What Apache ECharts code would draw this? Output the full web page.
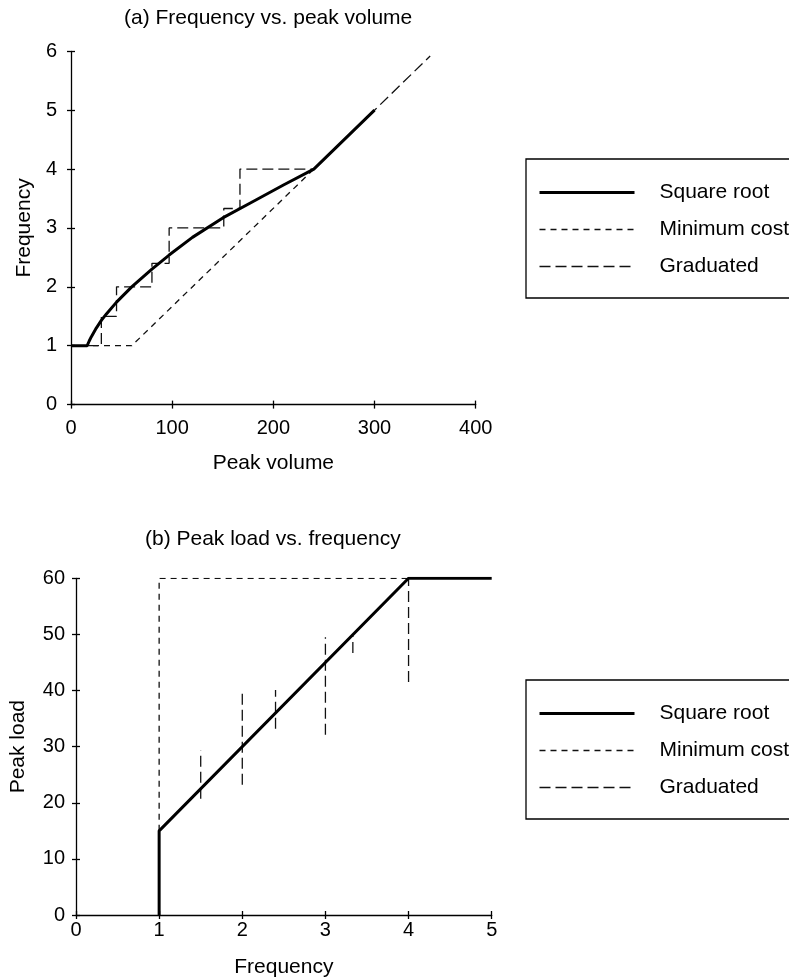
<!DOCTYPE html>
<html><head><meta charset="utf-8">
<script src="https://cdn.jsdelivr.net/npm/echarts@6/dist/echarts.min.js"></script>
<style>html,body{margin:0;padding:0;background:#fff}#c{width:789px;height:980px}</style>
</head><body><div id="c"></div><script>
// ---------- Panel (a): Frequency vs. peak volume ----------
const xTicksA = [0, 100, 200, 300, 400];
const yTicksA = [0, 1, 2, 3, 4, 5, 6];
const sqrtA_x = [0, 16, 18, 20, 25, 30, 35, 45, 60, 80, 97, 120, 150, 180, 210, 240, 300];
const sqrtA_y = [1, 1, 1.08, 1.15, 1.3, 1.43, 1.54, 1.74, 2.0, 2.3, 2.54, 2.84, 3.17, 3.45, 3.73, 4.0, 5.0];
const minCostA_x = [0, 60, 240];
const minCostA_y = [1, 1, 4];
const gradA_x = [0, 30, 30, 45, 45, 80, 80, 97, 97, 151, 151, 167, 167, 240, 300, 355];
const gradA_y = [1, 1, 1.5, 1.5, 2, 2, 2.4, 2.4, 3, 3, 3.33, 3.33, 4, 4, 5, 5.92];

// ---------- Panel (b): Peak load vs. frequency ----------
const xTicksB = [0, 1, 2, 3, 4, 5];
const yTicksB = [0, 10, 20, 30, 40, 50, 60];
const sqrtB_x = [1, 1, 4, 5];
const sqrtB_y = [0, 15, 60, 60];
const minCostB_x = [1, 1, 4];
const minCostB_y = [15, 60, 60];
const gradB_freq = [1.5, 2, 2.4, 3, 3.33, 4];
const gradB_low  = [20.7, 23.2, 33.2, 32.1, 46.7, 41.5];
const gradB_high = [29.3, 40.3, 40.1, 49.5, 49.8, 60];

const names = ['Square root', 'Minimum cost', 'Graduated'];
const FONT = 'Liberation Sans, Arial, Helvetica, sans-serif';
const zip = (xs, ys) => xs.map((x, i) => [x, ys[i]]);

const solid = {type: 'solid', width: 3, color: '#000'};
const minDash = {type: [6, 5], width: 1.3, color: '#111'};
const gradDash = {type: [11, 5], width: 1.3, color: '#111'};

function mainAxis(dim, grid, ticks, name, nameGap, margin) {
  return {
    type: 'value', gridIndex: grid,
    position: dim === 'x' ? 'bottom' : 'left',
    min: ticks[0], max: ticks[ticks.length - 1], interval: ticks[1] - ticks[0],
    name: name, nameLocation: 'middle', nameGap: nameGap,
    nameTextStyle: {fontFamily: FONT, fontSize: 21, color: '#000'},
    axisLine: {show: true, lineStyle: {color: '#000', width: 1.3}},
    axisTick: {show: true, inside: false, length: 4, lineStyle: {color: '#000', width: 1.3}},
    axisLabel: {show: true, fontFamily: FONT, fontSize: 20, color: '#000', margin: margin},
    splitLine: {show: false}
  };
}
function innerAxis(dim, grid, ticks) {
  return {
    type: 'value', gridIndex: grid,
    position: dim === 'x' ? 'bottom' : 'left',
    min: ticks[0], max: ticks[ticks.length - 1], interval: ticks[1] - ticks[0],
    axisLine: {show: false},
    axisTick: {show: true, inside: true, length: 4, lineStyle: {color: '#000', width: 1.3}},
    axisLabel: {show: false},
    splitLine: {show: false}
  };
}
function line(name, data, style, axisIdx, z) {
  return {type: 'line', name: name, data: data, xAxisIndex: axisIdx, yAxisIndex: axisIdx,
    symbol: 'none', lineStyle: style, itemStyle: {color: '#000'}, z: z, animation: false};
}

const series = [
  line('Minimum cost', zip(minCostA_x, minCostA_y), minDash, 0, 2),
  line('Graduated', zip(gradA_x, gradA_y), gradDash, 0, 2),
  line('Square root', zip(sqrtA_x, sqrtA_y), solid, 0, 5),
  line('Minimum cost', zip(minCostB_x, minCostB_y), minDash, 1, 2),
  line('Square root', zip(sqrtB_x, sqrtB_y), solid, 1, 5)
];
gradB_freq.forEach((f, i) => {
  series.push(line('Graduated', [[f, gradB_low[i]], [f, gradB_high[i]]], gradDash, 1, 2));
});

function legendAt(top) {
  return {
    data: names, orient: 'vertical', left: 526, top: top,
    itemWidth: 95, itemHeight: 20, itemGap: 16,
    padding: [23, 300, 21, 12],
    borderColor: '#000', borderWidth: 1.3,
    itemStyle: {color: 'rgba(0,0,0,0)', borderColor: 'rgba(0,0,0,0)', borderWidth: 0},
    lineStyle: {width: 'inherit'},
    textStyle: {fontFamily: FONT, fontSize: 21, lineHeight: 20, color: '#000', padding: [0, 0, 0, 20]},
    selectedMode: false
  };
}

const chart = echarts.init(document.getElementById('c'), null, {renderer: 'canvas'});
chart.setOption({
  animation: false,
  backgroundColor: '#fff',
  title: [
    {text: '(a) Frequency vs. peak volume', left: 124, top: 8, padding: 0,
      textStyle: {fontFamily: FONT, fontSize: 21, fontWeight: 'normal', color: '#000'}},
    {text: '(b) Peak load vs. frequency', left: 145, top: 529, padding: 0,
      textStyle: {fontFamily: FONT, fontSize: 21, fontWeight: 'normal', color: '#000'}}
  ],
  legend: [legendAt(159), legendAt(680)],
  grid: [
    {left: 71, top: 51.3, width: 404.7, height: 353.3, containLabel: false},
    {left: 73.3, top: 578.3, width: 418.4, height: 336.7, containLabel: false}
  ],
  xAxis: [
    mainAxis('x', 0, xTicksA, 'Peak volume', 48, 14),
    mainAxis('x', 1, xTicksB, 'Frequency', 42, 5),
    innerAxis('x', 0, xTicksA),
    innerAxis('x', 1, xTicksB)
  ],
  yAxis: [
    mainAxis('y', 0, yTicksA, 'Frequency', 32, 14),
    mainAxis('y', 1, yTicksB, 'Peak load', 47, 11),
    innerAxis('y', 0, yTicksA),
    innerAxis('y', 1, yTicksB)
  ],
  series: series
});
</script></body></html>
